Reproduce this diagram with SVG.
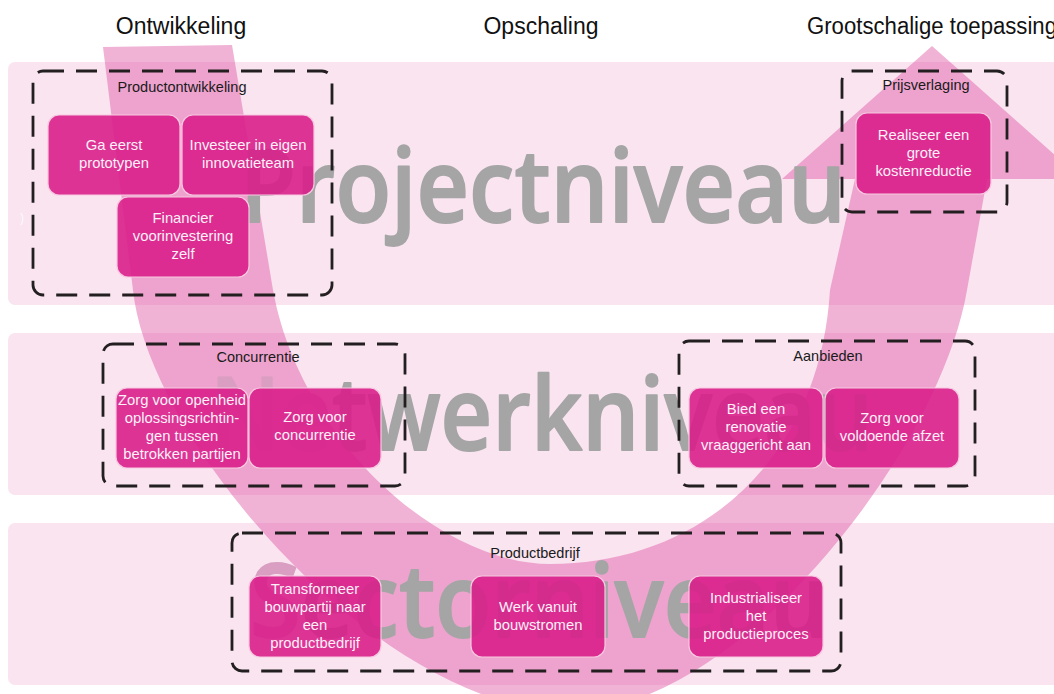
<svg xmlns="http://www.w3.org/2000/svg" width="1054" height="694" viewBox="0 0 1054 694">
<style>
.band{fill:#f9e4f0}
.big{font-family:"Open Sans","Liberation Sans",Arial,sans-serif;font-weight:600;font-size:102px;fill:#a5a5a5;stroke:#a5a5a5;stroke-width:1.8;stroke-linejoin:round}
.faint{fill:#d99ec2;stroke:#d99ec2}
.head{font-family:"Liberation Sans",Arial,sans-serif;font-size:23px;fill:#111;text-anchor:middle}
.grp{fill:none;stroke:#231f20;stroke-width:2.8;stroke-dasharray:21 12}
.glabel{font-family:"Liberation Sans",Arial,sans-serif;font-size:14.5px;fill:#1a1a1a;text-anchor:middle}
.node{fill:#d91f8b;fill-opacity:0.9;stroke:#f7c9e1;stroke-width:1.2}
.nt{font-family:"Liberation Sans",Arial,sans-serif;font-size:14.8px;fill:#fdf0f7;text-anchor:middle}
</style>

<!-- level bands -->
<g id="bands">
<rect class="band" x="8" y="62" width="1060" height="243" rx="7"/>
<rect class="band" x="8" y="333" width="1060" height="162" rx="7"/>
<rect class="band" x="8" y="523" width="1060" height="162" rx="7"/>
</g>

<!-- flow arrow -->
<g id="connectors">
<path d="M103,47 L232,45 L273,290 C300,440 440,564 550,564 C700,564 820,460 830,290 L855,179 L782,179 L932,46 L1082,179 L987,179 L967,290 C940,450 740,708 572,712 C380,712 148,440 133,290 Z" fill="#de54a2" fill-opacity="0.45"/>
</g>

<!-- level titles -->
<g id="levels">
<text class="big" x="240" y="222" textLength="606" lengthAdjust="spacingAndGlyphs">Projectniveau</text>
<text class="big" x="210" y="450" textLength="663" lengthAdjust="spacingAndGlyphs"><tspan class="faint">Ne</tspan>twerkniveau</text>
<text class="big" x="250" y="637" textLength="578" lengthAdjust="spacingAndGlyphs"><tspan class="faint">S</tspan>ectorniveau</text>
</g>

<!-- phase headers -->
<g id="phases">
<text class="head" x="181" y="34">Ontwikkeling</text>
<text class="head" x="541" y="34">Opschaling</text>
<text class="head" x="807" y="34" style="text-anchor:start" textLength="250" lengthAdjust="spacingAndGlyphs">Grootschalige toepassing</text>
</g>

<text x="20" y="222" font-family="Liberation Sans, Arial, sans-serif" font-size="12" fill="#ffffff" opacity="0.8">)</text>

<!-- dashed groups -->
<g id="group-productontwikkeling">
<rect class="grp" x="33" y="71" width="299" height="224" rx="10"/>
<text class="glabel" x="182" y="92">Productontwikkeling</text>
</g>
<g id="group-prijsverlaging">
<rect class="grp" x="842" y="71" width="165" height="141" rx="10"/>
<text class="glabel" x="926" y="90">Prijsverlaging</text>
</g>
<g id="group-concurrentie">
<rect class="grp" x="103" y="344" width="302" height="142" rx="10"/>
<text class="glabel" x="258" y="362">Concurrentie</text>
</g>
<g id="group-aanbieden">
<rect class="grp" x="679" y="341" width="296" height="145" rx="10"/>
<text class="glabel" x="828" y="361">Aanbieden</text>
</g>
<g id="group-productbedrijf">
<rect class="grp" x="232" y="533" width="609" height="138" rx="10"/>
<text class="glabel" x="535" y="558">Productbedrijf</text>
</g>

<!-- nodes -->
<g id="node-ga-eerst-prototypen">
<rect class="node" x="48" y="115" width="132" height="80" rx="11"/>
<text class="nt" x="114" y="150">Ga eerst</text>
<text class="nt" x="114" y="168">prototypen</text>
</g>
<g id="node-investeer">
<rect class="node" x="182" y="115" width="132" height="80" rx="11"/>
<text class="nt" x="248" y="150">Investeer in eigen</text>
<text class="nt" x="248" y="168">innovatieteam</text>
</g>
<g id="node-financier">
<rect class="node" x="117" y="197" width="132" height="80" rx="11"/>
<text class="nt" x="183" y="223">Financier</text>
<text class="nt" x="183" y="241">voorinvestering</text>
<text class="nt" x="183" y="259">zelf</text>
</g>
<g id="node-realiseer">
<rect class="node" x="856" y="113" width="135" height="81" rx="11"/>
<text class="nt" x="923.5" y="139.5">Realiseer een</text>
<text class="nt" x="923.5" y="157.5">grote</text>
<text class="nt" x="923.5" y="175.5">kostenreductie</text>
</g>
<g id="node-openheid">
<rect class="node" x="116" y="388" width="132" height="80" rx="11"/>
<text class="nt" x="182" y="405" textLength="128" lengthAdjust="spacingAndGlyphs">Zorg voor openheid</text>
<text class="nt" x="182" y="423">oplossingsrichtin-</text>
<text class="nt" x="182" y="441">gen tussen</text>
<text class="nt" x="182" y="459">betrokken partijen</text>
</g>
<g id="node-concurrentie">
<rect class="node" x="249" y="388" width="132" height="80" rx="11"/>
<text class="nt" x="315" y="422">Zorg voor</text>
<text class="nt" x="315" y="440">concurrentie</text>
</g>
<g id="node-bied">
<rect class="node" x="689" y="388" width="134" height="80" rx="11"/>
<text class="nt" x="756" y="414">Bied een</text>
<text class="nt" x="756" y="432">renovatie</text>
<text class="nt" x="756" y="450">vraaggericht aan</text>
</g>
<g id="node-afzet">
<rect class="node" x="825" y="388" width="134" height="80" rx="11"/>
<text class="nt" x="892" y="423">Zorg voor</text>
<text class="nt" x="892" y="441">voldoende afzet</text>
</g>
<g id="node-transformeer">
<rect class="node" x="249" y="576" width="132" height="81" rx="11"/>
<text class="nt" x="315" y="594">Transformeer</text>
<text class="nt" x="315" y="612">bouwpartij naar</text>
<text class="nt" x="315" y="630">een</text>
<text class="nt" x="315" y="648">productbedrijf</text>
</g>
<g id="node-bouwstromen">
<rect class="node" x="471" y="576" width="134" height="81" rx="11"/>
<text class="nt" x="538" y="612">Werk vanuit</text>
<text class="nt" x="538" y="630">bouwstromen</text>
</g>
<g id="node-industrialiseer">
<rect class="node" x="689" y="576" width="134" height="81" rx="11"/>
<text class="nt" x="756" y="603">Industrialiseer</text>
<text class="nt" x="756" y="621">het</text>
<text class="nt" x="756" y="639">productieproces</text>
</g>
</svg>
